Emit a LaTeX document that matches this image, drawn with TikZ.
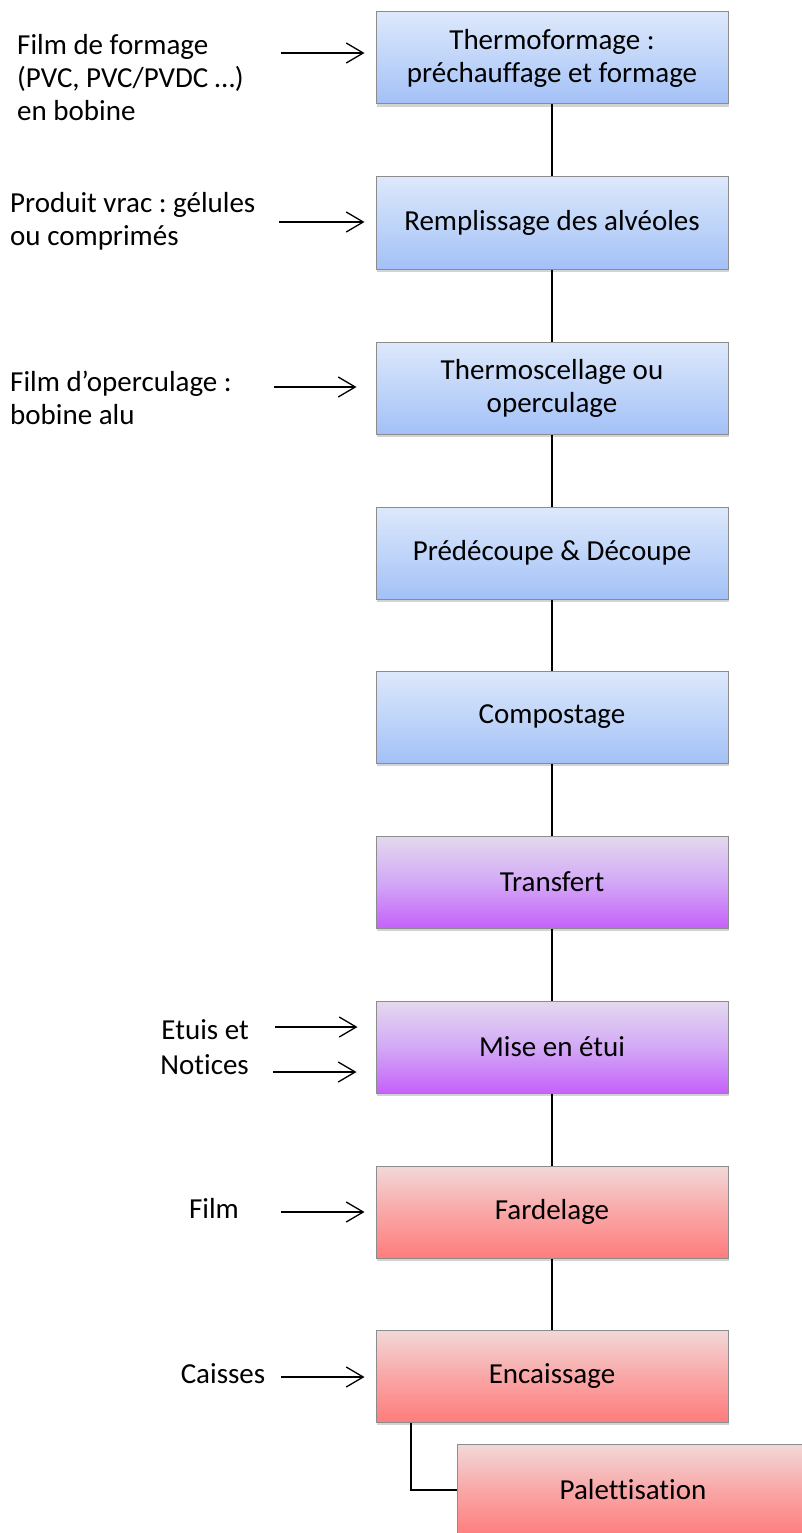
\documentclass[tikz,border=0pt]{standalone}
\usepackage{fontspec}
\setmainfont{Carlito}[Ligatures=CommonOff]
\usetikzlibrary{arrows.meta, calc, positioning, shadows}
\frenchspacing

\definecolor{blueTop}{HTML}{DDE8FB}
\definecolor{blueMid}{HTML}{C0D5F9}
\definecolor{blueBot}{HTML}{A3C1F7}
\definecolor{violetTop}{HTML}{E3D9EE}
\definecolor{violetMid}{HTML}{D3A9F6}
\definecolor{violetBot}{HTML}{C561FA}
\definecolor{redTop}{HTML}{F2D8D8}
\definecolor{redMid}{HTML}{F9A7A7}
\definecolor{redBot}{HTML}{FF7C7C}
\definecolor{boxline}{HTML}{8C8C8C}

\tikzset{
  stage/.style={draw=boxline, line width=1pt, minimum width=352pt, minimum height=92pt,
    align=center, inner sep=2pt,
    drop shadow={opacity=0.35, shadow xshift=0.5pt, shadow yshift=-3pt}},
  bluestage/.style={stage, top color=blueTop, bottom color=blueBot, middle color=blueMid},
  violetstage/.style={stage, top color=violetTop, bottom color=violetBot, middle color=violetMid},
  redstage/.style={stage, top color=redTop, bottom color=redBot, middle color=redMid},
  intext/.style={inner sep=0pt, align=left},
  feed/.style={-{Straight Barb[length=17pt,width=20pt]}, line width=1.3pt, shorten >=11pt},
  link/.style={line width=2pt}
}

\begin{document}
\begin{tikzpicture}[x=1pt, y=-1pt, font=\fontsize{29}{33}\selectfont]
\useasboundingbox (0,0) rectangle (801,1533);

% Etapes de la ligne
\node[bluestage] (thermo) at (552,58) {Thermoformage :\\préchauffage et formage};
\node[bluestage] (remplissage) at (552,223) {Remplissage des alvéoles};
\node[bluestage] (scellage) at (552,388) {Thermoscellage ou\\operculage};
\node[bluestage] (decoupe) at (552,553) {Prédécoupe \& Découpe};
\node[bluestage] (compostage) at (552,717) {Compostage};
\node[violetstage] (transfert) at (552,882) {Transfert};
\node[violetstage] (etui) at (552,1047) {Mise en étui};
\node[redstage] (fardelage) at (552,1212) {Fardelage};
\node[redstage] (encaissage) at (552,1376) {Encaissage};
\node[redstage] (palette) at (633,1490) {Palettisation};

% Liaisons
\draw[link] (thermo) -- (remplissage);
\draw[link] (remplissage) -- (scellage);
\draw[link] (scellage) -- (decoupe);
\draw[link] (decoupe) -- (compostage);
\draw[link] (compostage) -- (transfert);
\draw[link] (transfert) -- (etui);
\draw[link] (etui) -- (fardelage);
\draw[link] (fardelage) -- (encaissage);
\draw[link] ([xshift=35pt]encaissage.south west) |- (palette.west);

% Entrees
\node[intext, anchor=west] (lformage) at (17,78) {Film de formage\\(PVC, PVC/PVDC …)\\en bobine};
\node[intext, anchor=west] (lvrac) at (10,221) {Produit vrac : gélules\\ou comprimés};
\node[intext, anchor=west] (lopercule) at (10,398) {Film d’operculage :\\bobine alu};
\node[intext, anchor=east] (letuis) at (249,1030) {Etuis et};
\node[intext, anchor=east] (lnotices) at (249,1065) {Notices};
\node[intext] (lfilm) at (214,1208) {Film};
\node[intext] (lcaisses) at (223,1374) {Caisses};

\coordinate (a1) at (281,53);
\coordinate (a2) at (279,222);
\coordinate (a3) at (274,387);
\coordinate (a4) at (275,1027);
\coordinate (a5) at (273,1072);
\coordinate (a6) at (281,1212);
\coordinate (a7) at (281,1377);

\draw[feed] (a1) -- (a1 -| thermo.west);
\draw[feed] (a2) -- (a2 -| remplissage.west);
\draw[feed, shorten >=19pt] (a3) -- (a3 -| scellage.west);
\draw[feed, shorten >=18pt] (a4) -- (a4 -| etui.west);
\draw[feed, shorten >=19pt] (a5) -- (a5 -| etui.west);
\draw[feed] (a6) -- (a6 -| fardelage.west);
\draw[feed] (a7) -- (a7 -| encaissage.west);

\end{tikzpicture}
\end{document}
